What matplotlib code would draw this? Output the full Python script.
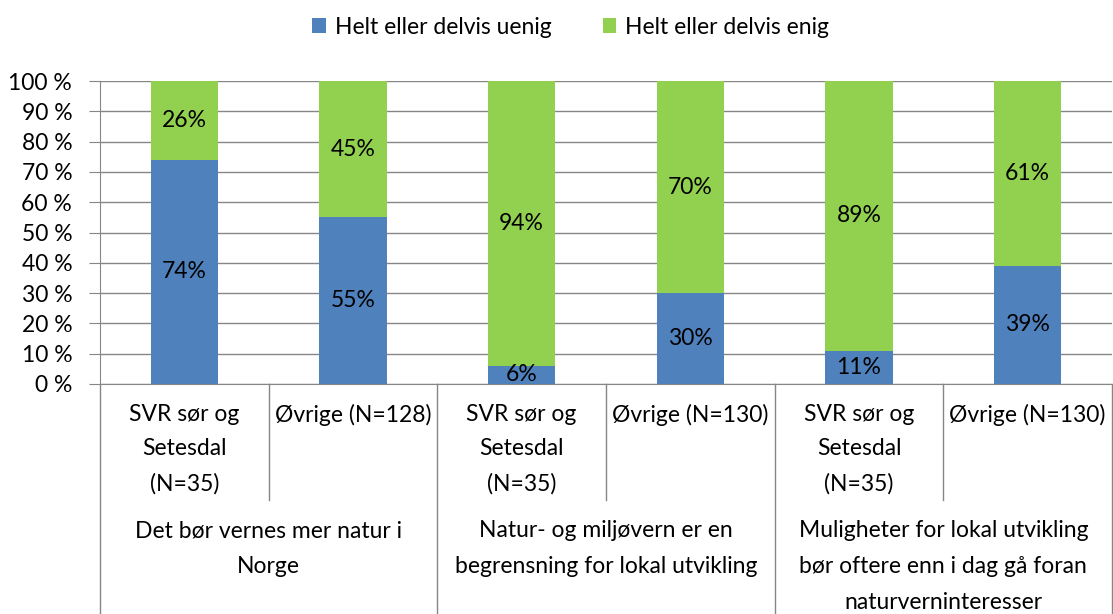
import matplotlib.pyplot as plt
from matplotlib.transforms import blended_transform_factory
from matplotlib.lines import Line2D

plt.rcParams['font.family'] = ['Lato', 'DejaVu Sans']

sub_labels = ["SVR sør og\nSetesdal\n(N=35)", "Øvrige (N=128)",
              "SVR sør og\nSetesdal\n(N=35)", "Øvrige (N=130)",
              "SVR sør og\nSetesdal\n(N=35)", "Øvrige (N=130)"]
group_labels = ["Det bør vernes mer natur i\nNorge",
                "Natur- og miljøvern er en\nbegrensning for lokal utvikling",
                "Muligheter for lokal utvikling\nbør oftere enn i dag gå foran\nnaturverninteresser"]
uenig = [74, 55, 6, 30, 11, 39]
enig = [26, 45, 94, 70, 89, 61]
series_names = ["Helt eller delvis uenig", "Helt eller delvis enig"]
colors = ["#4F81BD", "#92D050"]

W, H = 1113, 614
FS = 16.5
fig = plt.figure(figsize=(W / 100, H / 100), dpi=100)
ax = fig.add_axes([100 / W, 1 - 384 / H, 1012 / W, (384 - 81) / H])

x = list(range(len(uenig)))
b1 = ax.bar(x, uenig, width=0.4, color=colors[0], label=series_names[0], zorder=3)
b2 = ax.bar(x, enig, width=0.4, bottom=uenig, color=colors[1], label=series_names[1], zorder=3)

for i in x:
    ax.text(i, uenig[i] / 2, f"{uenig[i]}%", ha="center", va="center", fontsize=FS, zorder=4)
    ax.text(i, uenig[i] + enig[i] / 2, f"{enig[i]}%", ha="center", va="center", fontsize=FS, zorder=4)

ax.set_xlim(-0.5, len(x) - 0.5)
ax.set_ylim(0, 100)
ax.set_yticks(range(0, 101, 10))
ax.set_yticklabels([f"{v} %" for v in range(0, 101, 10)], fontsize=FS)
ax.yaxis.grid(True, color="#868686", linewidth=1, zorder=0)
ax.set_xticks([])
ax.tick_params(axis="y", length=8, color="#868686", pad=12)
for s in ["top", "right"]:
    ax.spines[s].set_visible(False)
for s in ["left", "bottom"]:
    ax.spines[s].set_color("#868686")

# multi-level category axis
tr = blended_transform_factory(ax.transData, fig.transFigure)
def fy(py):
    return 1 - py / H

for i, lab in enumerate(sub_labels):
    ax.text(i, fy(404), lab, transform=tr, ha="center", va="top", fontsize=FS, linespacing=1.78)
for g, lab in enumerate(group_labels):
    ax.text(2 * g + 0.5, fy(520), lab, transform=tr, ha="center", va="top", fontsize=FS, linespacing=1.88)

for k in range(len(x) + 1):
    xs = k - 0.5
    bottom = 614 if k % 2 == 0 else 500
    ax.add_line(Line2D([xs, xs], [fy(384), fy(bottom)], transform=tr, color="#868686",
                       linewidth=1, clip_on=False))

fig.legend(handles=[b1, b2], loc="center", bbox_to_anchor=(0.513, 1 - 27 / H), ncol=2,
           frameon=False, fontsize=FS, handlelength=0.6, handleheight=0.6,
           columnspacing=2.2, handletextpad=0.4)

fig.savefig("out.png", dpi=100)
